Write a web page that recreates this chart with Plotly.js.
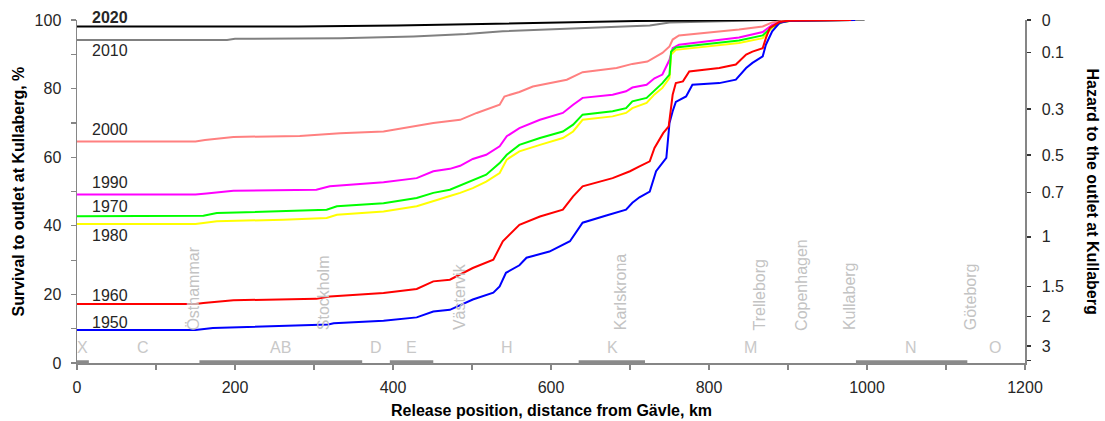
<!DOCTYPE html>
<html>
<head>
<meta charset="utf-8">
<script src="https://cdn.plot.ly/plotly-3.0.1.min.js"></script>
<style>
  html, body { margin: 0; padding: 0; background: #fff; }
  #chart { width: 1105px; height: 421px; }
</style>
</head>
<body>
<div id="chart"></div>
<script>
// Survival of released fish to the outlet at Kullaberg, by release position (km from Gävle)
const km2020 = [0, 280, 405, 501, 611, 708, 880, 975];
const surv2020 = [98.1, 98.1, 98.4, 98.8, 99.3, 99.7, 100, 100];

const km2010 = [0, 190, 200, 282, 333, 426, 493, 539, 636, 725, 750, 851, 880, 997];
const surv2010 = [94.2, 94.2, 94.5, 94.5, 94.7, 95.2, 95.9, 96.7, 97.7, 98.4, 99.3, 99.9, 100, 100];

const km2000 = [0, 150, 162, 198, 282, 333, 388, 451, 485, 506, 535, 541, 560, 577, 620, 640, 683, 703, 722, 729, 741, 750, 754, 762, 796, 838, 868, 880, 895, 960];
const surv2000 = [64.6, 64.6, 65.0, 65.9, 66.2, 67.0, 67.5, 70.0, 70.9, 72.9, 75.3, 77.7, 79.0, 80.6, 82.6, 84.8, 86.0, 87.2, 87.9, 88.9, 90.4, 92.3, 94.3, 95.5, 96.2, 97.2, 98.1, 99.3, 99.8, 100];

const km1990 = [0, 150, 164, 198, 303, 320, 388, 430, 451, 472, 485, 501, 518, 535, 544, 560, 586, 615, 628, 640, 678, 695, 703, 721, 731, 741, 750, 754, 762, 796, 838, 868, 880, 893, 905, 970];
const surv1990 = [49.1, 49.1, 49.4, 50.2, 50.5, 51.5, 52.7, 53.9, 55.9, 56.6, 57.5, 59.5, 60.7, 63.2, 66.1, 68.5, 70.9, 72.9, 75.3, 77.3, 78.2, 79.2, 80.3, 81.1, 83.0, 84.1, 88.4, 91.8, 92.8, 93.8, 94.9, 96.5, 98.6, 99.5, 99.8, 100];

const km1970 = [0, 150, 160, 177, 261, 316, 329, 388, 430, 451, 472, 485, 501, 518, 535, 544, 560, 586, 615, 628, 640, 678, 695, 703, 721, 731, 741, 750, 752, 758, 796, 838, 868, 880, 893, 905, 980];
const surv1970 = [42.8, 42.8, 42.9, 43.7, 44.2, 44.7, 45.7, 46.6, 48.1, 49.6, 50.5, 51.7, 53.4, 54.9, 58.3, 60.7, 63.6, 65.6, 67.5, 69.5, 72.4, 73.4, 74.3, 76.3, 77.3, 79.5, 81.6, 84.1, 90.8, 92.0, 93.0, 94.0, 95.5, 98.1, 99.5, 99.8, 100];

const km1980 = [0, 150, 160, 177, 261, 316, 329, 388, 430, 451, 472, 485, 501, 518, 535, 544, 560, 586, 615, 628, 640, 678, 695, 703, 721, 731, 741, 750, 752, 758, 796, 838, 868, 880, 893, 905, 980];
const surv1980 = [40.5, 40.5, 40.8, 41.3, 41.8, 42.3, 43.2, 44.2, 45.7, 47.1, 48.7, 49.6, 51.0, 52.9, 55.4, 59.3, 61.7, 63.6, 65.6, 67.5, 70.9, 71.9, 72.9, 74.3, 75.8, 78.3, 80.2, 83.1, 89.9, 91.3, 92.3, 93.3, 94.7, 97.7, 99.4, 99.8, 100];

const km1960 = [0, 150, 160, 198, 303, 320, 388, 430, 451, 472, 501, 527, 539, 560, 586, 615, 628, 640, 678, 700, 712, 725, 731, 742, 749, 754, 758, 767, 775, 813, 834, 847, 855, 868, 872, 877, 889, 900, 980];
const surv1960 = [17.2, 17.2, 17.5, 18.3, 18.7, 19.4, 20.4, 21.6, 23.8, 24.3, 27.7, 30.1, 35.5, 40.3, 42.7, 44.7, 48.6, 51.5, 53.9, 55.9, 57.3, 58.8, 62.7, 67.0, 69.0, 78.2, 81.6, 82.1, 85.0, 86.0, 87.0, 89.9, 90.8, 91.8, 94.7, 97.7, 99.4, 99.8, 100];

const km1950 = [0, 150, 172, 261, 318, 325, 388, 430, 451, 472, 501, 527, 535, 543, 560, 569, 598, 624, 640, 670, 695, 703, 712, 725, 733, 746, 750, 754, 758, 771, 779, 813, 834, 847, 855, 868, 872, 880, 889, 900, 985];
const surv1950 = [9.6, 9.6, 10.2, 10.7, 11.2, 11.6, 12.3, 13.3, 15.0, 15.5, 18.5, 20.5, 22.3, 26.3, 28.5, 30.7, 32.5, 35.5, 40.9, 43.0, 44.7, 46.7, 48.3, 50.0, 55.9, 59.8, 70.0, 73.4, 76.1, 77.7, 81.1, 81.6, 82.6, 86.0, 87.5, 89.4, 92.8, 96.7, 99.1, 99.7, 100];

// Hazard scale on the right axis: hazard h corresponds to survival 100*exp(-h)
const hazardTicks = [0, 0.1, 0.3, 0.5, 0.7, 1, 1.5, 2, 3, 5];
const hazardLabels = ['0', '0.1', '0.3', '0.5', '0.7', '1', '1.5', '2', '3', ''];

// Places along the coast (km from Gävle)
const placeNames = ['Östhammar', 'Stockholm', 'Västervik', 'Karlskrona', 'Trelleborg', 'Copenhagen', 'Kullaberg', 'Göteborg'];
const placeKm = [147, 313, 485, 689, 864, 917, 978, 1132];

// Coastal sections
const sectionNames = ['X', 'C', 'AB', 'D', 'E', 'H', 'K', 'M', 'N', 'O'];
const sectionKm = [7, 84, 257, 378, 423, 544, 678, 852, 1056, 1162];

// Stretches marked along the distance axis
const stretchStart = [0, 155, 396, 635, 986];
const stretchEnd = [15, 361, 451, 719, 1127];

const FONT = 'Liberation Sans, Arial, sans-serif';
const TXT = '#262626';
const AXIS = '#868686';

// draw order, colour and label placement (pixels above/below the starting value)
const series = [
  { name: '2010', x: km2010, y: surv2010, color: '#808080', shift: -10.5, bold: false },
  { name: '2020', x: km2020, y: surv2020, color: '#000000', shift: 9.5, bold: true },
  { name: '2000', x: km2000, y: surv2000, color: '#FF8080', shift: 12, bold: false },
  { name: '1990', x: km1990, y: surv1990, color: '#FF00FF', shift: 12, bold: false },
  { name: '1980', x: km1980, y: surv1980, color: '#FFFF00', shift: -11.5, bold: false },
  { name: '1970', x: km1970, y: surv1970, color: '#00FF00', shift: 10, bold: false },
  { name: '1950', x: km1950, y: surv1950, color: '#0000FF', shift: 7.5, bold: false },
  { name: '1960', x: km1960, y: surv1960, color: '#FF0000', shift: 8.5, bold: false }
];

const traces = series.map(s => ({
  type: 'scatter', mode: 'lines', x: s.x, y: s.y, name: s.name,
  line: { color: s.color, width: 2 }, hoverinfo: 'skip', showlegend: false
}));

// invisible trace so the hazard axis is drawn
traces.push({ type: 'scatter', mode: 'lines', x: [0], y: [0], yaxis: 'y2', line: { width: 0 }, showlegend: false, hoverinfo: 'skip' });

const annotations = [];
series.forEach(s => {
  annotations.push({
    x: 17, y: s.y[0], xref: 'x', yref: 'y', yshift: s.shift,
    text: s.bold ? '<b>' + s.name + '</b>' : s.name,
    showarrow: false, xanchor: 'left', yanchor: 'middle',
    font: { family: FONT, size: 16, color: TXT }
  });
});
placeNames.forEach((p, i) => {
  annotations.push({
    x: placeKm[i], y: 8.9, xref: 'x', yref: 'y', text: p, textangle: -90,
    showarrow: false, xanchor: 'center', yanchor: 'bottom',
    font: { family: FONT, size: 16, color: '#c3c3c3' }
  });
});
sectionNames.forEach((p, i) => {
  annotations.push({
    x: sectionKm[i], y: 4.5, xref: 'x', yref: 'y', text: p,
    showarrow: false, xanchor: 'center', yanchor: 'middle',
    font: { family: FONT, size: 16, color: '#c8c8c8' }
  });
});
annotations.push({
  x: 0.5, y: 0, xref: 'paper', yref: 'paper', yshift: -47,
  text: '<b>Release position, distance from Gävle, km</b>', showarrow: false,
  xanchor: 'center', yanchor: 'middle', font: { family: FONT, size: 16, color: '#000' }
});
annotations.push({
  x: 0, y: 0.5, xref: 'paper', yref: 'paper', xshift: -59, textangle: -90,
  text: '<b>Survival to outlet at Kullaberg, %</b>', showarrow: false,
  xanchor: 'center', yanchor: 'middle', font: { family: FONT, size: 16, color: '#000' }
});
annotations.push({
  x: 1, y: 0.5, xref: 'paper', yref: 'paper', xshift: 67, textangle: 90,
  text: '<b>Hazard to the outlet at Kullaberg</b>', showarrow: false,
  xanchor: 'center', yanchor: 'middle', font: { family: FONT, size: 16, color: '#000' }
});

const shapes = stretchStart.map((a, i) => ({
  type: 'rect', xref: 'x', yref: 'paper', x0: a, x1: stretchEnd[i],
  y0: -0.005, y1: 0.008, fillcolor: '#8a8a8a', line: { width: 0 }, layer: 'above'
}));

const layout = {
  width: 1105, height: 421,
  margin: { l: 77, r: 80, t: 20, b: 58 },
  paper_bgcolor: '#fff', plot_bgcolor: '#fff',
  font: { family: FONT, size: 16, color: TXT },
  showlegend: false,
  xaxis: {
    range: [0, 1200], tickvals: [0, 200, 400, 600, 800, 1000, 1200],
    showgrid: false, zeroline: false, showline: true, linecolor: AXIS, linewidth: 1.5,
    ticks: 'outside', ticklen: 5, tickcolor: AXIS, tickwidth: 1.2,
    minor: { tickvals: [100, 300, 500, 700, 900, 1100], ticks: 'outside', ticklen: 5, tickcolor: AXIS, tickwidth: 1.2, showgrid: false },
    tickfont: { family: FONT, size: 16, color: TXT }, ticklabelstandoff: 4
  },
  yaxis: {
    range: [0, 100], tickvals: [0, 20, 40, 60, 80, 100],
    showgrid: false, zeroline: false, showline: true, linecolor: AXIS, linewidth: 1.5,
    ticks: 'outside', ticklen: 5, tickcolor: AXIS, tickwidth: 1.2,
    minor: { tickvals: [10, 30, 50, 70, 90], ticks: 'outside', ticklen: 5, tickcolor: AXIS, tickwidth: 1.2, showgrid: false },
    tickfont: { family: FONT, size: 16, color: TXT }, ticklabelstandoff: 6
  },
  yaxis2: {
    overlaying: 'y', side: 'right', range: [0, 100],
    tickvals: hazardTicks.map(h => 100 * Math.exp(-h)), ticktext: hazardLabels,
    showgrid: false, zeroline: false, showline: true, linecolor: AXIS, linewidth: 1.5,
    ticks: 'outside', ticklen: 4, tickcolor: '#333', tickwidth: 1.5,
    tickfont: { family: FONT, size: 16, color: TXT }, ticklabelstandoff: 8
  },
  annotations: annotations,
  shapes: shapes
};

Plotly.newPlot('chart', traces, layout, { staticPlot: true, displayModeBar: false });
</script>
</body>
</html>
